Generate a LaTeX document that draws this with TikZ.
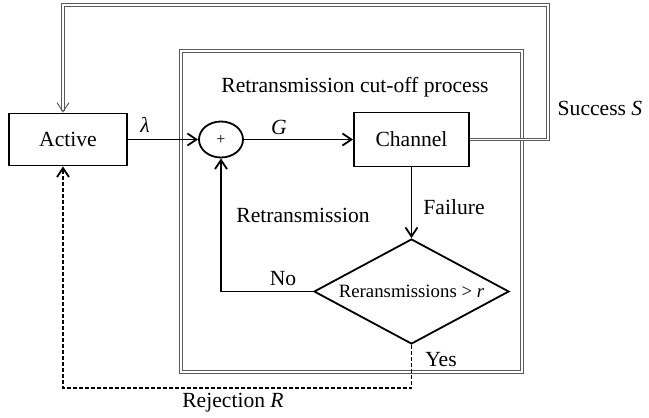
\documentclass[tikz,border=0pt]{standalone}
\usepackage{fontspec}
\setmainfont{Liberation Serif}
\usetikzlibrary{arrows.meta, shapes.geometric}

\begin{document}
\begin{tikzpicture}[x=0.5pt, y=-0.5pt, >={Straight Barb[length=4.5pt,width=6pt]},
		line cap=butt, line join=miter, font=\fontsize{10.8}{13}\selectfont,
		block/.style={draw, line width=0.9pt, inner sep=0pt},
		flow/.style={line width=0.9pt, ->},
		reject/.style={line width=0.9pt, dash pattern=on 2pt off 1pt, ->},
		frame/.style={draw=gray!70!black, line width=0.5pt, double, double distance=0.7pt}]
		
		\useasboundingbox (0,0) rectangle (649,418);
		
		%========================
		% process frame
		%========================
		\node[frame, minimum width=170.5pt, minimum height=160.5pt] (proc) at (351.5,211.5) {};
		\node (title) at (355,87) {Retransmission cut-off process};
		
		%========================
		% blocks
		%========================
		\node[block, minimum width=59pt, minimum height=26pt] (active) at (68,139.5) {Active};
		\node[block, ellipse, minimum width=22pt, minimum height=18pt] (sum) at (221,139.5) {\fontsize{8}{9}\selectfont +};
		\node[block, minimum width=57.5pt, minimum height=27pt] (channel) at (411.5,139.5) {Channel};
		\node[block, diamond, aspect=1.86, minimum width=97.5pt, minimum height=52.5pt,
			font=\fontsize{9.4}{11}\selectfont] (test) at (411.5,291.5) {Reransmissions > \textit{r}};
		
		% free corners
		\coordinate (sr) at (548,5);
		\coordinate (sl) at (63,5);
		\coordinate (rj) at (63,388);
		
		%========================
		% connectors
		%========================
		\draw[flow] (active) -- (sum);
		\draw[flow] (sum) -- (channel);
		\draw[flow] (channel) -- (test);
		\draw[flow] (test.west) -| (sum.south);
		\draw[frame, ->] (channel.east) -| (sr) -- (sl) -- (sl |- active.north);
		\draw[reject] (test.south) |- (rj) -- (rj |- active.south);
		
		% labels
		\node (lam) at (145,125) {\textit{λ}};
		\node (g) at (279,127) {\textit{G}};
		\node (succ) at (600,108) {Success \textit{S}};
		\node (fail) at (454,207) {Failure};
		\node (retr) at (303,215) {Retransmission};
		\node (no) at (283,279) {No};
		\node (yes) at (441,360) {Yes};
		\node (rej) at (233,403) {Rejection \textit{R}};
		
	\end{tikzpicture}
\end{document}
